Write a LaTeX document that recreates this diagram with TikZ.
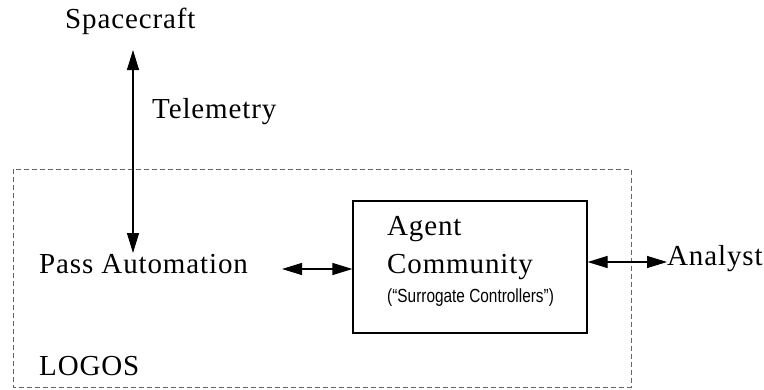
\documentclass[tikz,border=0pt]{standalone}
\usepackage{fontspec}
\setmainfont{Liberation Serif}[LetterSpace=3]
\newfontfamily\narrowsans{Liberation Sans}[FakeStretch=0.81]
\usetikzlibrary{arrows.meta}

\begin{document}
\begin{tikzpicture}[x=1pt, y=-1pt,
  lbl/.style={anchor=base west, inner sep=0pt, font=\fontsize{29}{33}\selectfont},
  note/.style={anchor=base west, inner sep=0pt, font=\narrowsans\fontsize{19}{22}\selectfont},
  link/.style={line width=1.2pt, {Triangle[length=20pt,width=12pt]}-{Triangle[length=20pt,width=12pt]}},
  region/.style={draw=black!60, line width=0.9pt, dash pattern=on 5pt off 3pt}]
\useasboundingbox (0,0) rectangle (764,389);
% LOGOS boundary
\draw[region] (13,169) rectangle (631,387);
% agent box
\node[draw, line width=1.2pt, minimum width=234pt, minimum height=132pt, inner sep=0pt] (agent) at (470,267) {};
% texts
\node[lbl] (space) at (65,28) {Spacecraft};
\node[lbl] (tele) at (152,118) {Telemetry};
\node[lbl] (pass) at (39,273) {Pass Automation};
\node[lbl] (logos) at (39,375) {LOGOS};
\node[lbl] (agentA) at (387,235) {Agent};
\node[lbl] (agentB) at (387,273) {Community};
\node[note] (surr) at (387,302) {(“Surrogate Controllers”)};
\node[lbl] (analyst) at (667,265) {Analyst};
% arrow ends
\coordinate (up) at (133,50);
\coordinate (down) at (133,253);
\coordinate (passR) at (282,269);
\coordinate (analystL) at (analyst.west |- 0,262);
\draw[link] (up) -- (down);
\draw[link] (passR) -- (passR -| agent.west);
\draw[link] (agent.east |- analystL) -- (analystL);
\end{tikzpicture}
\end{document}
